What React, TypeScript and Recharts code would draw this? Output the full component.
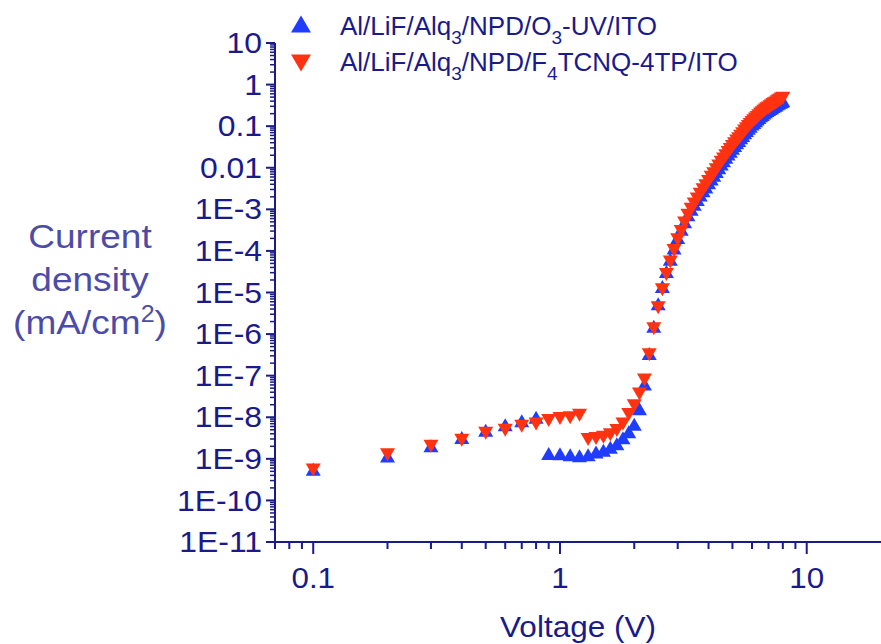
import React from "react"
import { ScatterChart, Scatter, XAxis, YAxis } from "recharts"

const NAVY = "#1a1a8c"
const LABEL_BLUE = "#4c4ca8"
const BLUE = "#1f3cff"
const RED = "#ff3311"
const FONT = "'Liberation Sans', Arial, sans-serif"

// applied bias (V), same sweep for both devices
const voltage = [
  0.1, 0.2, 0.3, 0.4, 0.5, 0.6, 0.7, 0.8, 0.9, 1.0,
  1.1, 1.2, 1.3, 1.4, 1.5, 1.6, 1.7, 1.8, 1.9, 2.0,
  2.1, 2.2, 2.3, 2.4, 2.5, 2.6, 2.7, 2.8, 2.9, 3.0,
  3.1, 3.2, 3.3, 3.4, 3.5, 3.6, 3.7, 3.8, 3.9, 4.0,
  4.1, 4.2, 4.3, 4.4, 4.5, 4.6, 4.7, 4.8, 4.9, 5.0,
  5.1, 5.2, 5.3, 5.4, 5.5, 5.6, 5.7, 5.8, 5.9, 6.0,
  6.1, 6.2, 6.3, 6.4, 6.5, 6.6, 6.7, 6.8, 6.9, 7.0,
  7.1, 7.2, 7.3, 7.4, 7.5, 7.6, 7.7, 7.8, 7.9, 8.0,
]

// Al/LiF/Alq3/NPD/O3-UV/ITO  (mA/cm2)
const o3uvJ = [
  5.6e-10, 1.17e-9, 2.05e-9, 3.25e-9, 4.9e-9, 6.6e-9, 8.2e-9, 1.0e-8, 1.34e-9, 1.32e-9,
  1.26e-9, 1.18e-9, 1.26e-9, 1.45e-9, 1.6e-9, 1.9e-9, 2.3e-9, 3.2e-9, 4.5e-9, 6.8e-9,
  1.6e-8, 6.3e-8, 3.4e-7, 1.55e-6, 5.4e-6, 1.4e-5, 3.2e-5, 6.3e-5, 1.17e-4, 2.1e-4,
  3.3e-4, 5.0e-4, 7.4e-4, 1.0e-3, 1.33e-3, 1.72e-3, 2.2e-3, 2.8e-3, 3.45e-3, 4.35e-3,
  5.4e-3, 6.6e-3, 8.1e-3, 1.0e-2, 1.23e-2, 1.48e-2, 1.78e-2, 2.13e-2, 2.5e-2, 2.95e-2,
  3.45e-2, 4.0e-2, 4.55e-2, 5.25e-2, 6.0e-2, 6.9e-2, 7.9e-2, 8.9e-2, 0.1, 0.112,
  0.123, 0.135, 0.148, 0.162, 0.178, 0.19, 0.208, 0.222, 0.238, 0.25,
  0.266, 0.278, 0.297, 0.31, 0.322, 0.345, 0.36, 0.377, 0.394, 0.41,
]

// Al/LiF/Alq3/NPD/F4TCNQ-4TP/ITO  (mA/cm2)
const f4tcnqJ = [
  5.4e-10, 1.25e-9, 2.0e-9, 2.8e-9, 4.1e-9, 4.9e-9, 6.1e-9, 6.9e-9, 8.3e-9, 9.3e-9,
  9.7e-9, 1.12e-8, 2.9e-9, 3.1e-9, 3.3e-9, 3.8e-9, 4.8e-9, 6.9e-9, 1.17e-8, 1.9e-8,
  3.6e-8, 7.9e-8, 3.2e-7, 1.35e-6, 4.3e-6, 1.17e-5, 2.7e-5, 5.4e-5, 1.02e-4, 1.86e-4,
  2.95e-4, 4.7e-4, 7.2e-4, 1.0e-3, 1.35e-3, 1.78e-3, 2.3e-3, 2.95e-3, 3.7e-3, 4.7e-3,
  5.9e-3, 7.2e-3, 8.9e-3, 1.1e-2, 1.35e-2, 1.62e-2, 1.95e-2, 2.34e-2, 2.75e-2, 3.24e-2,
  3.8e-2, 4.37e-2, 5.0e-2, 5.75e-2, 6.6e-2, 7.6e-2, 8.7e-2, 9.8e-2, 0.11, 0.123,
  0.135, 0.148, 0.162, 0.178, 0.195, 0.209, 0.229, 0.245, 0.263, 0.275,
  0.295, 0.309, 0.331, 0.347, 0.363, 0.389, 0.407, 0.427, 0.447, 0.468,
]

const xMajorTicks = [0.1, 1, 10]
const xTickLabels = ["0.1", "1", "10"]
const xMinorTicks = [0.07, 0.08, 0.09, 0.2, 0.3, 0.4, 0.5, 0.6, 0.7, 0.8, 0.9, 2, 3, 4, 5, 6, 7, 8, 9]

const yMajorTicks = [1e-11, 1e-10, 1e-9, 1e-8, 1e-7, 1e-6, 1e-5, 1e-4, 1e-3, 0.01, 0.1, 1, 10]
const yTickLabels = ["1E-11", "1E-10", "1E-9", "1E-8", "1E-7", "1E-6", "1E-5", "1E-4", "1E-3", "0.01", "0.1", "1", "10"]

const yMinorTicks = yMajorTicks.slice(0, -1).flatMap((d) => [2, 3, 4, 5, 6, 7, 8, 9].map((m) => m * d))

const o3uvData = voltage.map((v, i) => ({ v, j: o3uvJ[i] }))
const f4tcnqData = voltage.map((v, i) => ({ v, j: f4tcnqJ[i] }))

const majorIndex = (value: number, majors: number[]) =>
  majors.findIndex((m) => Math.abs(Math.log10(m) - Math.log10(value)) < 1e-6)

const XTick = (props: any) => {
  const { x, y, payload } = props
  const idx = majorIndex(payload.value, xMajorTicks)
  const major = idx >= 0
  return (
    <g>
      <line x1={x} x2={x} y1={y} y2={y + (major ? 12 : 7)} stroke={NAVY} strokeWidth={2} />
      {major && (
        <text
          transform={`translate(${x},${y + 46}) scale(1.08,1)`}
          textAnchor="middle"
          fill={NAVY}
          fontSize={29}
          fontFamily={FONT}
        >
          {xTickLabels[idx]}
        </text>
      )}
    </g>
  )
}

const YTick = (props: any) => {
  const { x, y, payload } = props
  const idx = majorIndex(payload.value, yMajorTicks)
  const major = idx >= 0
  return (
    <g>
      <line x1={x - (major ? 9 : 5)} x2={x} y1={y} y2={y} stroke={NAVY} strokeWidth={major ? 2 : 1.5} />
      {major && (
        <text
          transform={`translate(${x - 13},${y}) scale(1.1,1)`}
          dy="0.35em"
          textAnchor="end"
          fill={NAVY}
          fontSize={29}
          fontFamily={FONT}
        >
          {yTickLabels[idx]}
        </text>
      )}
    </g>
  )
}

const UpTriangle = (props: any) => {
  const { cx, cy } = props
  return <polygon points={`${cx},${cy - 6.5} ${cx - 7.5},${cy + 6.5} ${cx + 7.5},${cy + 6.5}`} fill={BLUE} />
}

const DownTriangle = (props: any) => {
  const { cx, cy } = props
  return <polygon points={`${cx - 7.5},${cy - 6.5} ${cx + 7.5},${cy - 6.5} ${cx},${cy + 6.5}`} fill={RED} />
}

export default function App() {
  return (
    <div style={{ position: "absolute", left: 0, top: 0, width: 881, height: 644, background: "#fff" }}>
      <ScatterChart width={881} height={644} margin={{ top: 43, right: 0, bottom: 42, left: 175 }}>
        <XAxis
          type="number"
          dataKey="v"
          scale="log"
          domain={[0.07, 20]}
          ticks={[...xMinorTicks, ...xMajorTicks].sort((a, b) => a - b)}
          interval={0}
          tick={<XTick />}
          tickLine={false}
          tickSize={0}
          tickMargin={0}
          height={60}
          axisLine={{ stroke: NAVY, strokeWidth: 2 }}
          allowDataOverflow
        />
        <YAxis
          type="number"
          dataKey="j"
          scale="log"
          domain={[1e-11, 10]}
          ticks={[...yMinorTicks, ...yMajorTicks].sort((a, b) => a - b)}
          interval={0}
          tick={<YTick />}
          tickLine={false}
          tickSize={0}
          tickMargin={0}
          width={100}
          axisLine={{ stroke: NAVY, strokeWidth: 2 }}
          allowDataOverflow
        />
        <Scatter data={o3uvData} shape={<UpTriangle />} isAnimationActive={false} />
        <Scatter data={f4tcnqData} shape={<DownTriangle />} isAnimationActive={false} />
      </ScatterChart>
      <svg width={881} height={644} style={{ position: "absolute", left: 0, top: 0, pointerEvents: "none" }}>
        <polygon points="301,15.5 291,32.5 311,32.5" fill={BLUE} />
        <polygon points="291,54.5 311,54.5 301,71.5" fill={RED} />
        <text x={340} y={35} fill={NAVY} fontSize={26} fontFamily={FONT}>
          Al/LiF/Alq<tspan fontSize={19} dy={9}>3</tspan>
          <tspan dy={-9}>/NPD/O</tspan>
          <tspan fontSize={19} dy={9}>3</tspan>
          <tspan dy={-9}>-UV/ITO</tspan>
        </text>
        <text x={340} y={71} fill={NAVY} fontSize={26} fontFamily={FONT}>
          Al/LiF/Alq<tspan fontSize={19} dy={9}>3</tspan>
          <tspan dy={-9}>/NPD/F</tspan>
          <tspan fontSize={19} dy={9}>4</tspan>
          <tspan dy={-9}>TCNQ-4TP/ITO</tspan>
        </text>
        <g transform="translate(90,0) scale(1.09,1)">
          <text textAnchor="middle" fill={LABEL_BLUE} fontSize={34} fontFamily={FONT}>
            <tspan x={0} y={248}>Current</tspan>
            <tspan x={0} y={291}>density</tspan>
            <tspan x={0} y={334}>
              (mA/cm<tspan fontSize={23} dy={-12}>2</tspan>
              <tspan dy={12}>)</tspan>
            </tspan>
          </text>
        </g>
        <text
          transform="translate(578,637) scale(1.05,1)"
          textAnchor="middle"
          fill={NAVY}
          fontSize={30}
          fontFamily={FONT}
        >
          Voltage (V)
        </text>
      </svg>
    </div>
  )
}
